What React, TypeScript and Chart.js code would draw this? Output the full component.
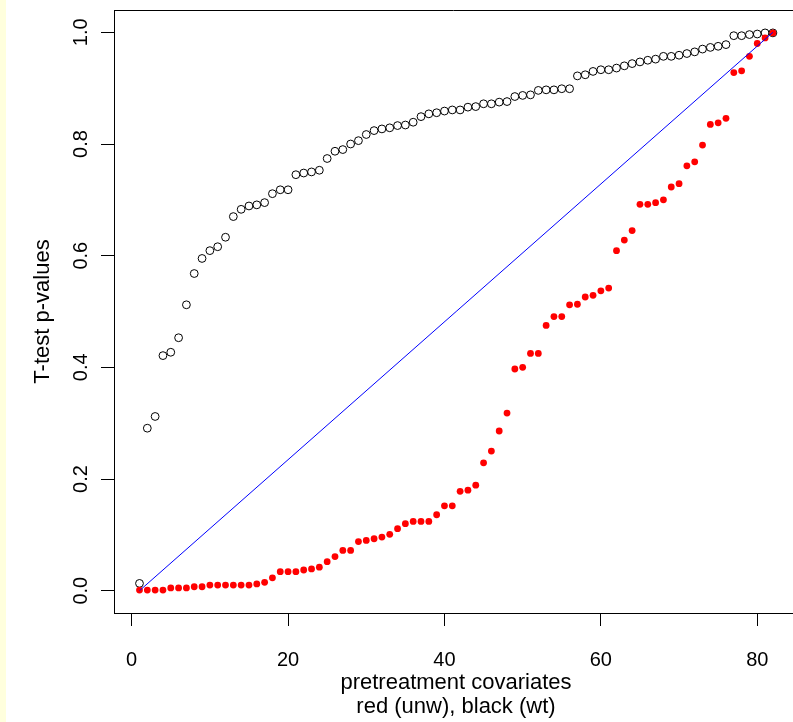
import React, { useEffect, useRef } from 'react';
import { Chart, registerables } from 'chart.js';

Chart.register(...registerables);

// ---- data ----
const covariates = [
  1, 2, 3, 4, 5, 6, 7, 8, 9, 10, 11, 12, 13, 14, 15, 16, 17, 18, 19, 20,
  21, 22, 23, 24, 25, 26, 27, 28, 29, 30, 31, 32, 33, 34, 35, 36, 37, 38, 39, 40,
  41, 42, 43, 44, 45, 46, 47, 48, 49, 50, 51, 52, 53, 54, 55, 56, 57, 58, 59, 60,
  61, 62, 63, 64, 65, 66, 67, 68, 69, 70, 71, 72, 73, 74, 75, 76, 77, 78, 79, 80,
  81, 82,
];

// black open circles (weighted)
const weightedP = [
  0.013, 0.291, 0.312, 0.421, 0.427, 0.453, 0.512, 0.568, 0.595, 0.609,
  0.616, 0.633, 0.670, 0.683, 0.689, 0.691, 0.695, 0.711, 0.718, 0.718,
  0.745, 0.748, 0.750, 0.753, 0.774, 0.787, 0.790, 0.800, 0.806, 0.817,
  0.824, 0.827, 0.829, 0.833, 0.834, 0.839, 0.849, 0.854, 0.856, 0.859,
  0.861, 0.861, 0.866, 0.867, 0.872, 0.872, 0.875, 0.876, 0.885, 0.887,
  0.888, 0.896, 0.897, 0.897, 0.899, 0.899, 0.922, 0.924, 0.930, 0.933,
  0.933, 0.936, 0.940, 0.944, 0.947, 0.950, 0.952, 0.957, 0.957, 0.959,
  0.962, 0.965, 0.970, 0.973, 0.975, 0.978, 0.994, 0.994, 0.996, 0.997,
  0.999, 0.999,
];

// red filled dots (unweighted)
const unweightedP = [
  0.001, 0.001, 0.001, 0.001, 0.005, 0.005, 0.005, 0.007, 0.007, 0.010,
  0.010, 0.010, 0.010, 0.010, 0.010, 0.012, 0.015, 0.023, 0.034, 0.034,
  0.034, 0.037, 0.039, 0.042, 0.052, 0.061, 0.072, 0.072, 0.088, 0.090,
  0.093, 0.096, 0.101, 0.111, 0.120, 0.124, 0.124, 0.124, 0.136, 0.152,
  0.152, 0.178, 0.180, 0.189, 0.229, 0.250, 0.286, 0.318, 0.397, 0.400,
  0.425, 0.425, 0.475, 0.491, 0.491, 0.512, 0.513, 0.526, 0.529, 0.537,
  0.542, 0.609, 0.628, 0.645, 0.692, 0.692, 0.695, 0.700, 0.723, 0.729,
  0.761, 0.768, 0.798, 0.835, 0.838, 0.846, 0.928, 0.931, 0.957, 0.980,
  0.990, 0.999,
];

// reference diagonal
const diagonalX = [1, 82];
const diagonalY = [0, 1];

const xTicks = [0, 20, 40, 60, 80];
const yTicks = [0, 0.2, 0.4, 0.6, 0.8, 1.0];
const yTickLabels = ['0.0', '0.2', '0.4', '0.6', '0.8', '1.0'];

const yTitle = 'T-test p-values';
const xTitleLines = ['pretreatment covariates', 'red (unw), black (wt)'];

const FONT = '"Liberation Sans", Arial, Helvetica, sans-serif';
const FS = 20;
const TITLE_FS = 22;

export default function App() {
  const ref = useRef<HTMLCanvasElement | null>(null);

  useEffect(() => {
    document.body.style.margin = '0';
    const canvas = ref.current;
    if (!canvas) return;

    const framePlugin = {
      id: 'frame',
      beforeDraw(chart: any) {
        const ctx = chart.ctx;
        ctx.save();
        ctx.fillStyle = '#ffffff';
        ctx.fillRect(0, 0, chart.width, chart.height);
        ctx.fillStyle = '#ffffdd';
        ctx.fillRect(0, 0, 6, chart.height);
        ctx.restore();
      },
      afterDraw(chart: any) {
        const ctx = chart.ctx;
        const area = chart.chartArea;
        const ys = chart.scales.y;
        ctx.save();
        // top edge of the box
        ctx.strokeStyle = '#000';
        ctx.lineWidth = 1;
        ctx.beginPath();
        ctx.moveTo(area.left, area.top + 0.5);
        ctx.lineTo(area.right, area.top + 0.5);
        ctx.stroke();

        ctx.fillStyle = '#000';
        ctx.font = `${FS}px ${FONT}`;
        // rotated y tick labels
        yTicks.forEach((v, i) => {
          const py = ys.getPixelForValue(v);
          ctx.save();
          ctx.translate(87, py);
          ctx.rotate(-Math.PI / 2);
          ctx.textAlign = 'center';
          ctx.textBaseline = 'alphabetic';
          ctx.fillText(yTickLabels[i], 0, 0);
          ctx.restore();
        });
        // y title
        ctx.font = `${TITLE_FS}px ${FONT}`;
        ctx.save();
        ctx.translate(49, (area.top + area.bottom) / 2);
        ctx.rotate(-Math.PI / 2);
        ctx.textAlign = 'center';
        ctx.textBaseline = 'alphabetic';
        ctx.fillText(yTitle, 0, 0);
        ctx.restore();
        // x title (two lines)
        const cx = (area.left + 798) / 2;
        ctx.textAlign = 'center';
        ctx.textBaseline = 'middle';
        xTitleLines.forEach((t, i) => {
          ctx.fillText(t, cx, 683 + i * 24);
        });
        ctx.restore();
      },
    };

    const chart = new Chart(canvas, {
      type: 'scatter',
      data: {
        datasets: [
          {
            label: 'diagonal',
            data: diagonalX.map((x, i) => ({ x, y: diagonalY[i] })),
            showLine: true,
            borderColor: '#0000ff',
            borderWidth: 1,
            pointRadius: 0,
            order: 0,
          },
          {
            label: 'unw',
            data: covariates.map((x, i) => ({ x, y: unweightedP[i] })),
            pointStyle: 'circle',
            pointRadius: 3.4,
            backgroundColor: '#ff0000',
            borderColor: '#ff0000',
            borderWidth: 0,
            order: 1,
          },
          {
            label: 'wt',
            data: covariates.map((x, i) => ({ x, y: weightedP[i] })),
            pointStyle: 'circle',
            pointRadius: 3.9,
            backgroundColor: 'rgba(0,0,0,0)',
            borderColor: '#000000',
            borderWidth: 1,
            order: 2,
          },
        ],
      },
      options: {
        animation: false,
        responsive: false,
        devicePixelRatio: 1,
        events: [],
        layout: { autoPadding: false, padding: { left: 0, top: 10, right: 0, bottom: 0 } },
        plugins: {
          legend: { display: false },
          tooltip: { enabled: false },
          title: { display: false },
        },
        scales: {
          x: {
            type: 'linear',
            min: -2.26,
            max: 84.57,
            afterBuildTicks: (scale: any) => {
              scale.ticks = xTicks.map((v) => ({ value: v }));
            },
            afterFit: (scale: any) => {
              scale.height = 109;
              scale.paddingLeft = 0;
              scale.paddingRight = 0;
            },
            grid: {
              display: true,
              drawOnChartArea: false,
              drawTicks: true,
              tickLength: 13,
              tickColor: '#000',
              tickWidth: 1,
            },
            border: { display: true, color: '#000', width: 1 },
            ticks: {
              color: '#000',
              font: { family: FONT, size: FS },
              padding: 22,
              maxRotation: 0,
              minRotation: 0,
              callback: (v: any) => String(v),
            },
          },
          y: {
            type: 'linear',
            min: -0.04,
            max: 1.04,
            afterBuildTicks: (scale: any) => {
              scale.ticks = yTicks.map((v) => ({ value: v }));
            },
            afterFit: (scale: any) => {
              scale.width = 114;
            },
            grid: {
              display: true,
              drawOnChartArea: false,
              drawTicks: true,
              tickLength: 13,
              tickColor: '#000',
              tickWidth: 1,
            },
            border: { display: true, color: '#000', width: 1 },
            ticks: { display: false },
          },
        },
      },
      plugins: [framePlugin],
    } as any);

    return () => chart.destroy();
  }, []);

  return (
    <div style={{ width: 793, height: 722, position: 'relative', overflow: 'hidden' }}>
      <canvas ref={ref} width={793} height={722} style={{ display: 'block', width: 793, height: 722 }} />
    </div>
  );
}
